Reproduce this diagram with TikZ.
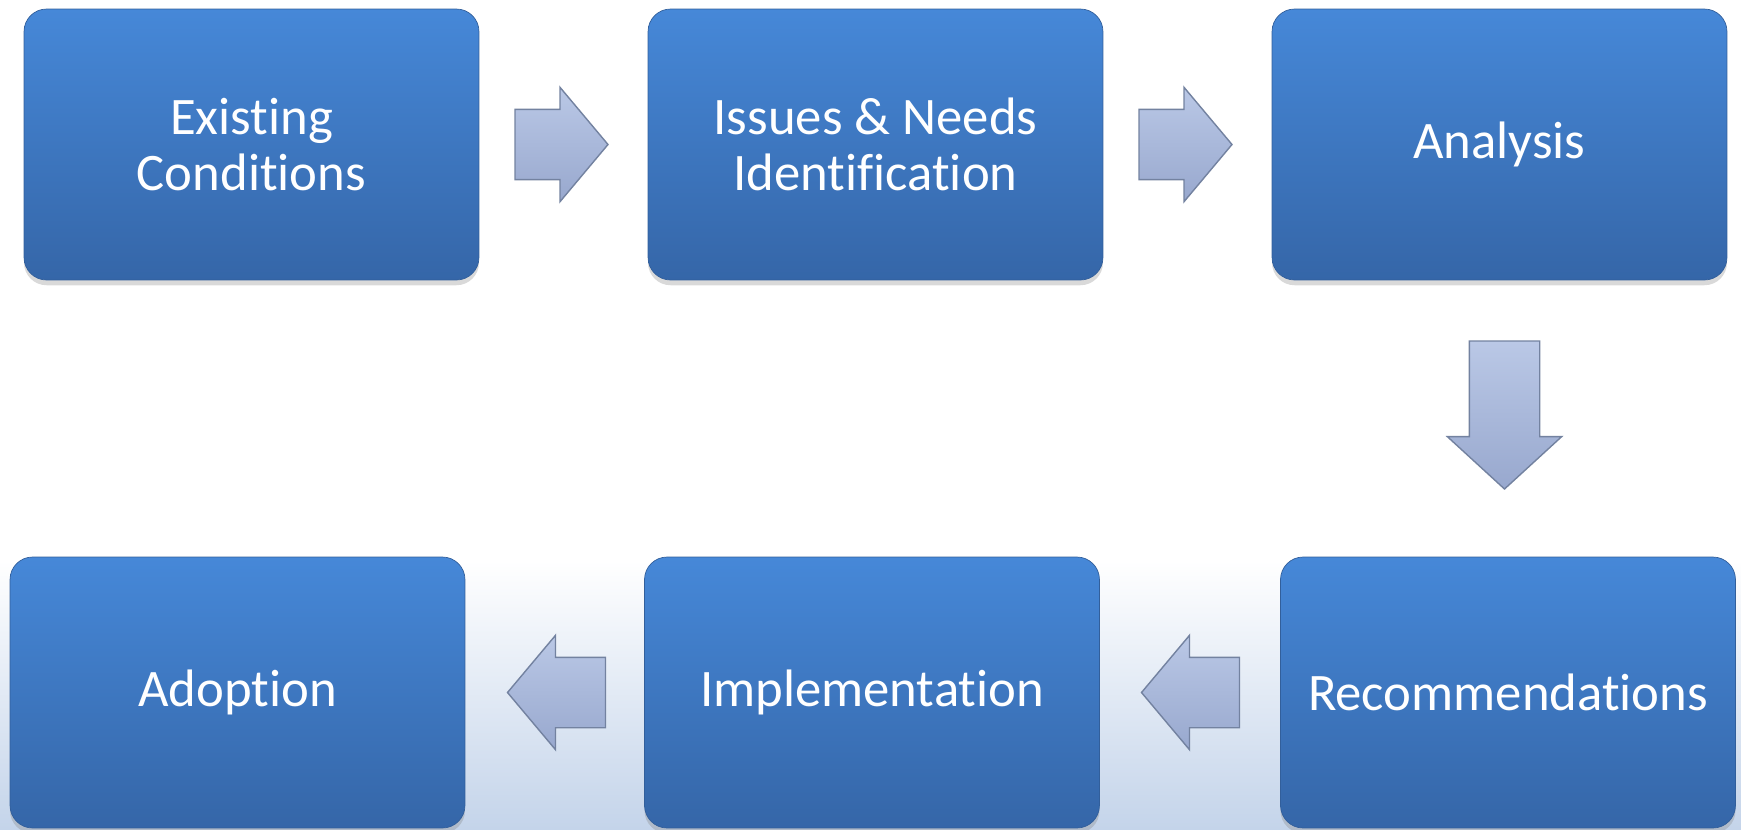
\documentclass[tikz,border=0pt]{standalone}
\usepackage{fontspec}
\setmainfont[Ligatures=NoCommon]{Carlito}
\usetikzlibrary{positioning,calc,shapes.arrows,shadows}

\definecolor{boxtop}{RGB}{70,136,216}
\definecolor{boxbot}{RGB}{53,102,168}
\definecolor{boxline}{RGB}{50,95,155}
\definecolor{arrtop}{RGB}{186,200,230}
\definecolor{arrbot}{RGB}{152,168,206}
\definecolor{arrline}{RGB}{115,130,160}
\definecolor{bgbot}{RGB}{196,212,234}

\begin{document}
\begin{tikzpicture}[x=0.02cm,y=-0.02cm,
		stage/.style={draw=boxline, rounded corners=0.45cm,
			top color=boxtop, bottom color=boxbot,
			minimum width=9.1cm, minimum height=5.42cm,
			text=white, align=center,
			font=\fontsize{30}{31.6}\selectfont,
			drop shadow={opacity=0.3, shadow xshift=0pt, shadow yshift=-3pt}},
		flow/.style={single arrow, draw=arrline, thick,
			top color=arrtop, bottom color=arrbot,
			inner xsep=0pt, inner ysep=0.69cm, anchor=tail,
			single arrow head extend=0.44cm,
			single arrow tip angle=100}]
						% background
						\useasboundingbox (0,0) rectangle (1741,829);
						\shade[top color=white, bottom color=bgbot] (0,560) rectangle (1741,829);

						\node[stage] (cond) at (251.5,144.5) {Existing\\Conditions};
						\node[stage] (needs) at (875.5,144.5) {Issues \& Needs\\Identification};
						\node[stage] (anal) at (1499.5,144.5) {Analysis};

						\node[stage] (adopt) at (237.5,692.5) {Adoption};
						\node[stage] (impl) at (872,692.5) {Implementation};
						\node[stage] (recom) at (1508,692.5) {Recommendations};

						% block arrows between the stages
						\node[flow, minimum height=1.86cm] (a1) at ($(cond.east)+(35,0)$) {};
						\node[flow, minimum height=1.86cm] (a2) at ($(needs.east)+(35,0)$) {};
						\node[flow, minimum height=2.96cm, single arrow tip angle=95,
							inner xsep=0.69cm, inner ysep=0pt,
							shape border rotate=270] (a3) at ($(anal.south)+(5,60)$) {};
						\node[flow, minimum height=1.96cm,
							shape border rotate=180] (a4) at ($(recom.west)+(-40,0)$) {};
						\node[flow, minimum height=1.96cm,
							shape border rotate=180] (a5) at ($(impl.west)+(-38,0)$) {};

					\end{tikzpicture}
\end{document}
